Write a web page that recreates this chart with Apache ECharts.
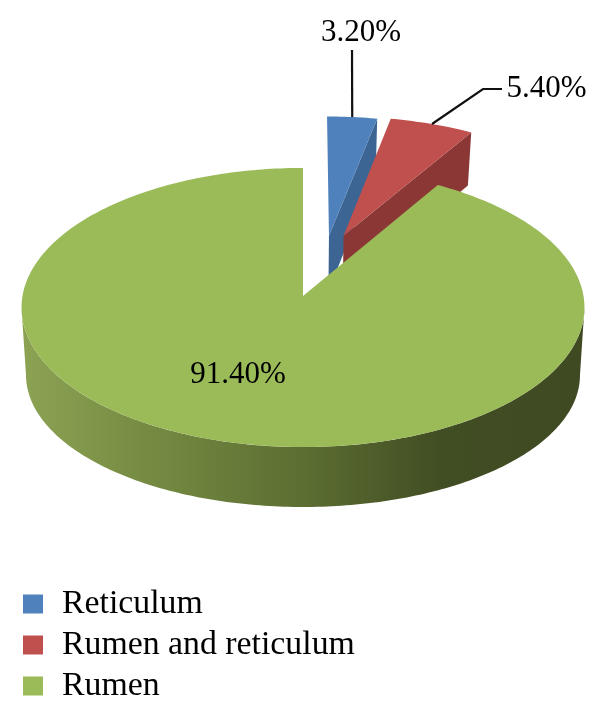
<!DOCTYPE html>
<html>
<head>
<meta charset="utf-8">
<style>
  html, body { margin: 0; padding: 0; background: #fff; }
  #chart { width: 605px; height: 717px; }
</style>
<script src="https://cdn.jsdelivr.net/npm/echarts@6/dist/echarts.min.js"></script>
</head>
<body>
<div id="chart"></div>
<script>
const categories = ['Reticulum', 'Rumen and reticulum', 'Rumen']
const shares = [3.2, 5.4, 91.4]

const topColors = ['#4f81bd', '#c0504d', '#9bbb59']
const sideColors = ['#3d6594', '#8a3735', '#5f7033']
const fontFamily = '"Liberation Serif", serif'

// perspective of the tilted disc: unit circle -> screen
const CX = 303
const CY = 296
const SX = 280.5
const SY = 138.6
const PERSP = 0.0824
const THICK = 57
const THICK_TILT = 3
const SHRINK = 0.98

// outer rim of the base, seen from the front
const BASE_CY = 375
const BASE_RX = 277
const BASE_RY = 132

// how far each slice is pulled out of the pie, in unit-circle terms
const explode = [[0.096, 0.45], [0.15, 0.45], [0, 0]]
// label boxes, leader lines
const labelAt = [[361, 33], [546.5, 89], [238, 375]]
const leaderBends = [[[352, 50]], [[483, 89], [502, 89]], null]

const project = (u, v) => {
  const w = 1 + PERSP * v
  return [CX + SX * u / w, CY - SY * v / w]
}

const projectBottom = (u, v) => {
  const p = project(u, v)
  return [CX + (p[0] - CX) * SHRINK, p[1] + THICK - THICK_TILT * v]
}

const rad = deg => deg * Math.PI / 180

const startAngle = i => shares.slice(0, i).reduce((a, b) => a + b, 0) * 3.6

const renderSlice = i => (params, api) => {
  const from = startAngle(i)
  const to = from + api.value(0) * 3.6
  const [ox, oy] = explode[i]
  const rim = deg => [ox + Math.sin(rad(deg)), oy + Math.cos(rad(deg))]
  const arc = []
  for (let d = from; d < to; d += 1) arc.push(rim(d))
  arc.push(rim(to))

  const children = []

  // front wall of the big slice, only the part facing the viewer
  if (to - from > 180) {
    const edge = Math.acos(-PERSP) * 180 / Math.PI
    const strip = []
    for (let d = edge; d <= 360 - edge; d += 1) {
      const p = rim(d)
      strip.push(project(p[0], p[1]))
    }
    for (let d = 270; d >= 90; d -= 1) {
      strip.push([CX + BASE_RX * Math.sin(rad(d)), BASE_CY - BASE_RY * Math.cos(rad(d))])
    }
    children.push({
      type: 'polygon',
      shape: { points: strip },
      style: {
        fill: new echarts.graphic.LinearGradient(21, 0, 584, 0, [
          { offset: 0, color: '#8ca354' },
          { offset: 0.25, color: '#738840' },
          { offset: 0.5, color: '#5c6e32' },
          { offset: 0.75, color: '#414d23' },
          { offset: 1, color: '#3f4a23' }
        ], true)
      }
    })
  }

  // cut face of a pulled out slice
  if (ox || oy) {
    const end = rim(to)
    children.push({
      type: 'polygon',
      shape: {
        points: [
          project(ox, oy),
          project(end[0], end[1]),
          projectBottom(end[0], end[1]),
          projectBottom(ox, oy)
        ]
      },
      style: { fill: sideColors[i] }
    })
  }

  children.push({
    type: 'polygon',
    shape: { points: [project(ox, oy)].concat(arc.map(p => project(p[0], p[1]))) },
    style: { fill: topColors[i] }
  })

  // leader line from the middle of the rim
  if (leaderBends[i]) {
    const mid = rim((from + to) / 2)
    children.push({
      type: 'polyline',
      shape: { points: [project(mid[0], mid[1])].concat(leaderBends[i]) },
      style: { stroke: '#111', lineWidth: 2.2, fill: 'none' }
    })
  }

  children.push({
    type: 'text',
    x: labelAt[i][0],
    y: labelAt[i][1],
    style: {
      text: api.value(0).toFixed(2) + '%',
      font: '31px ' + fontFamily,
      fill: '#000',
      align: 'center',
      verticalAlign: 'middle'
    }
  })

  return { type: 'group', children }
}

const chart = echarts.init(document.getElementById('chart'), null, { renderer: 'canvas' })

chart.setOption({
  animation: false,
  backgroundColor: '#fff',
  legend: {
    orient: 'vertical',
    left: 23,
    top: 587,
    padding: 0,
    icon: 'rect',
    itemWidth: 20,
    itemHeight: 19,
    itemGap: 7,
    selectedMode: false,
    data: categories,
    textStyle: {
      fontFamily: fontFamily,
      fontSize: 33.8,
      color: '#000',
      padding: [0, 0, 0, 14]
    }
  },
  series: categories.map((name, i) => ({
    type: 'custom',
    name: name,
    coordinateSystem: 'none',
    itemStyle: { color: topColors[i] },
    renderItem: renderSlice(i),
    data: [[shares[i]]]
  }))
})

window.addEventListener('resize', () => chart.resize())
</script>
</body>
</html>
